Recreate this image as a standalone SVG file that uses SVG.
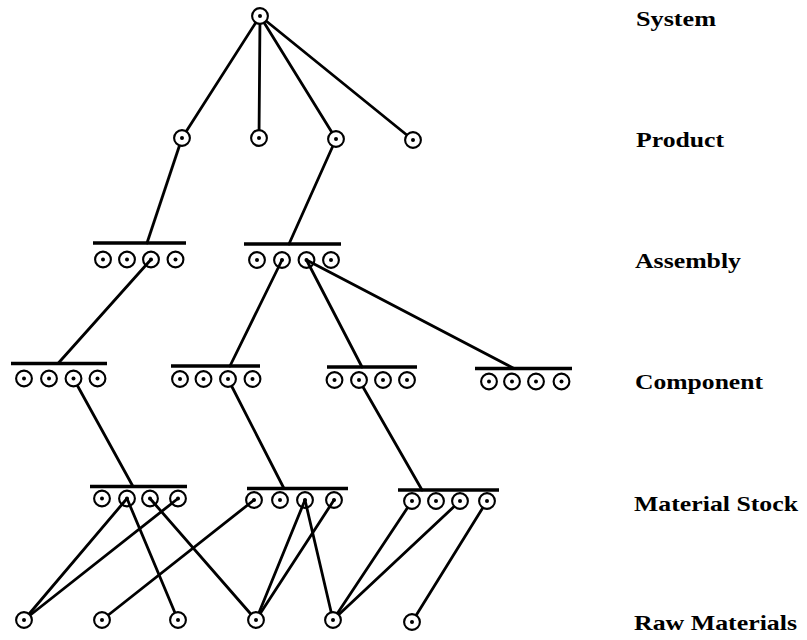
<svg xmlns="http://www.w3.org/2000/svg" width="807" height="640" viewBox="0 0 807 640">
  <style>
    .edge { stroke: #000; stroke-width: 2.8; stroke-linecap: round; fill: none; }
    .bar { stroke: #000; stroke-width: 3.5; stroke-linecap: butt; }
    .ring { stroke: #000; stroke-width: 2.1; fill: #fff; }
    .ring-open { stroke: #000; stroke-width: 2.1; fill: none; }
    .dot { fill: #000; }
    .lvl { font-family: "Liberation Serif", "Times New Roman", serif; font-weight: bold; font-size: 22px; fill: #000; }
  </style>
  <defs>
    <g id="pt">
      <circle class="ring" r="7.9"/>
      <circle class="dot" r="2"/>
    </g>
    <g id="pt-open">
      <circle class="ring-open" r="7.9"/>
      <circle class="dot" r="2"/>
    </g>
  </defs>
  <rect width="807" height="640" fill="#fff"/>

  <!-- connectors -->
  <g id="connectors">
    <!-- system to products -->
    <line class="edge" x1="260" y1="16" x2="182" y2="138"/>
    <line class="edge" x1="260" y1="16" x2="259" y2="138"/>
    <line class="edge" x1="260" y1="16" x2="336" y2="139"/>
    <line class="edge" x1="260" y1="16" x2="413" y2="140"/>
    <!-- products to assemblies -->
    <line class="edge" x1="182" y1="138" x2="147" y2="243"/>
    <line class="edge" x1="336" y1="139" x2="289" y2="244"/>
    <!-- assemblies to components -->
    <line class="edge" x1="151" y1="259.5" x2="58" y2="363.5"/>
    <line class="edge" x1="282" y1="260" x2="230" y2="366"/>
    <line class="edge" x1="306.5" y1="260" x2="362" y2="367"/>
    <line class="edge" x1="306.5" y1="260" x2="514" y2="368.5"/>
    <!-- components to material stock -->
    <line class="edge" x1="73.5" y1="378.5" x2="133" y2="486.5"/>
    <line class="edge" x1="228" y1="379" x2="284" y2="488.5"/>
    <line class="edge" x1="359" y1="380" x2="422" y2="490"/>
    <!-- material stock to raw materials -->
    <line class="edge" x1="127" y1="498.5" x2="24" y2="620"/>
    <line class="edge" x1="178" y1="498.5" x2="24" y2="620"/>
    <line class="edge" x1="127" y1="498.5" x2="178" y2="620"/>
    <line class="edge" x1="150" y1="498.5" x2="256" y2="620"/>
    <line class="edge" x1="254" y1="500" x2="102" y2="620"/>
    <line class="edge" x1="305" y1="500" x2="256" y2="620"/>
    <line class="edge" x1="334" y1="500" x2="256" y2="620"/>
    <line class="edge" x1="305" y1="500" x2="333" y2="620"/>
    <line class="edge" x1="412" y1="501" x2="333" y2="620"/>
    <line class="edge" x1="460" y1="501" x2="333" y2="620"/>
    <line class="edge" x1="487" y1="501" x2="412" y2="622"/>
  </g>

  <!-- system -->
  <g id="system"><use href="#pt" x="260" y="16"/></g>

  <!-- products -->
  <g id="product-1"><use href="#pt" x="182" y="138"/></g>
  <g id="product-2"><use href="#pt" x="259" y="138"/></g>
  <g id="product-3"><use href="#pt" x="336" y="139"/></g>
  <g id="product-4"><use href="#pt" x="413" y="140"/></g>

  <!-- assemblies -->
  <g id="assembly-1">
    <line class="bar" x1="93" y1="243" x2="186" y2="243"/>
    <use href="#pt" x="103" y="259.5"/>
    <use href="#pt" x="127" y="259.5"/>
    <use href="#pt-open" x="151" y="259.5"/>
    <use href="#pt" x="175.5" y="259.5"/>
  </g>
  <g id="assembly-2">
    <line class="bar" x1="244" y1="244" x2="341" y2="244"/>
    <use href="#pt" x="257" y="260"/>
    <use href="#pt-open" x="282" y="260"/>
    <use href="#pt-open" x="306.5" y="260"/>
    <use href="#pt" x="331" y="260"/>
  </g>

  <!-- components -->
  <g id="component-1">
    <line class="bar" x1="11" y1="363.5" x2="107" y2="363.5"/>
    <use href="#pt" x="24" y="378.5"/>
    <use href="#pt" x="49" y="378.5"/>
    <use href="#pt" x="73.5" y="378.5"/>
    <use href="#pt" x="97.5" y="378.5"/>
  </g>
  <g id="component-2">
    <line class="bar" x1="171" y1="366" x2="260" y2="366"/>
    <use href="#pt" x="180" y="379"/>
    <use href="#pt" x="203.5" y="379"/>
    <use href="#pt" x="228" y="379"/>
    <use href="#pt" x="252.5" y="379"/>
  </g>
  <g id="component-3">
    <line class="bar" x1="327" y1="367" x2="417" y2="367"/>
    <use href="#pt" x="334.5" y="380"/>
    <use href="#pt" x="359" y="380"/>
    <use href="#pt" x="383" y="380"/>
    <use href="#pt" x="407" y="380"/>
  </g>
  <g id="component-4">
    <line class="bar" x1="475" y1="368.5" x2="572" y2="368.5"/>
    <use href="#pt" x="489" y="381.5"/>
    <use href="#pt" x="512" y="381.5"/>
    <use href="#pt" x="536" y="381.5"/>
    <use href="#pt" x="561.5" y="381.5"/>
  </g>

  <!-- material stock -->
  <g id="stock-1">
    <line class="bar" x1="90" y1="486.5" x2="187" y2="486.5"/>
    <use href="#pt" x="102" y="498.5"/>
    <use href="#pt-open" x="127" y="498.5"/>
    <use href="#pt-open" x="150" y="498.5"/>
    <use href="#pt-open" x="178" y="498.5"/>
  </g>
  <g id="stock-2">
    <line class="bar" x1="247" y1="488.5" x2="348" y2="488.5"/>
    <use href="#pt-open" x="254" y="500"/>
    <use href="#pt" x="280" y="500"/>
    <use href="#pt-open" x="305" y="500"/>
    <use href="#pt-open" x="334" y="500"/>
  </g>
  <g id="stock-3">
    <line class="bar" x1="398" y1="490" x2="499" y2="490"/>
    <use href="#pt" x="412" y="501"/>
    <use href="#pt" x="436" y="501"/>
    <use href="#pt" x="460" y="501"/>
    <use href="#pt" x="487" y="501"/>
  </g>

  <!-- raw materials -->
  <g id="raw-1"><use href="#pt" x="24" y="620"/></g>
  <g id="raw-2"><use href="#pt" x="102" y="620"/></g>
  <g id="raw-3"><use href="#pt" x="178" y="620"/></g>
  <g id="raw-4"><use href="#pt" x="256" y="620"/></g>
  <g id="raw-5"><use href="#pt" x="333" y="620"/></g>
  <g id="raw-6"><use href="#pt" x="412" y="622"/></g>

  <!-- level labels -->
  <g id="levels">
    <text class="lvl" x="636" y="26" textLength="80" lengthAdjust="spacingAndGlyphs">System</text>
    <text class="lvl" x="636" y="147" textLength="88" lengthAdjust="spacingAndGlyphs">Product</text>
    <text class="lvl" x="635" y="268" textLength="106" lengthAdjust="spacingAndGlyphs">Assembly</text>
    <text class="lvl" x="635" y="389" textLength="128" lengthAdjust="spacingAndGlyphs">Component</text>
    <text class="lvl" x="634" y="511" textLength="164" lengthAdjust="spacingAndGlyphs">Material Stock</text>
    <text class="lvl" x="634" y="630" textLength="163" lengthAdjust="spacingAndGlyphs">Raw Materials</text>
  </g>
</svg>
